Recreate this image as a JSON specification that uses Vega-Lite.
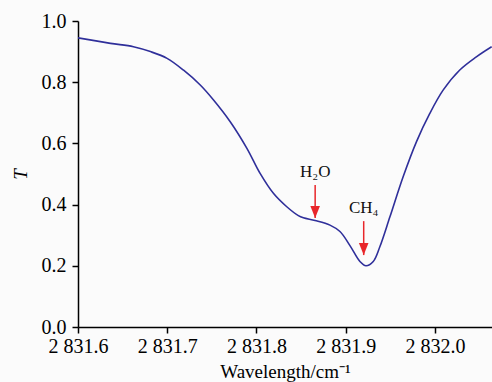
{
  "$schema": "https://vega.github.io/schema/vega-lite/v6.json",
  "width": 414,
  "height": 306,
  "autosize": {"type": "none"},
  "padding": {"left": 78, "top": 21, "right": 0, "bottom": 55},
  "background": "#fbfbfb",
  "config": {
    "view": {"stroke": null},
    "font": "Times New Roman",
    "axis": {
      "labelFont": "Times New Roman",
      "labelFontSize": 20,
      "labelColor": "#000",
      "titleFont": "Times New Roman",
      "titleFontSize": 19,
      "titleColor": "#000",
      "titleFontWeight": "normal",
      "domainColor": "#000",
      "domainWidth": 1.5,
      "tickColor": "#000",
      "tickWidth": 1.5,
      "tickSize": 6,
      "grid": false
    }
  },
  "datasets": {
    "curve": [
      {"wl": 2831.6000, "T": 0.945},
      {"wl": 2831.6364, "T": 0.927},
      {"wl": 2831.6621, "T": 0.916},
      {"wl": 2831.6811, "T": 0.900},
      {"wl": 2831.6998, "T": 0.878},
      {"wl": 2831.7180, "T": 0.840},
      {"wl": 2831.7370, "T": 0.791},
      {"wl": 2831.7519, "T": 0.742},
      {"wl": 2831.7706, "T": 0.671},
      {"wl": 2831.7893, "T": 0.584},
      {"wl": 2831.8041, "T": 0.502},
      {"wl": 2831.8190, "T": 0.437},
      {"wl": 2831.8340, "T": 0.393},
      {"wl": 2831.8470, "T": 0.364},
      {"wl": 2831.8526, "T": 0.357},
      {"wl": 2831.8657, "T": 0.348},
      {"wl": 2831.8824, "T": 0.333},
      {"wl": 2831.8936, "T": 0.312},
      {"wl": 2831.9048, "T": 0.266},
      {"wl": 2831.9160, "T": 0.214},
      {"wl": 2831.9227, "T": 0.200},
      {"wl": 2831.9309, "T": 0.214},
      {"wl": 2831.9384, "T": 0.263},
      {"wl": 2831.9496, "T": 0.360},
      {"wl": 2831.9644, "T": 0.491},
      {"wl": 2831.9794, "T": 0.606},
      {"wl": 2831.9943, "T": 0.698},
      {"wl": 2832.0092, "T": 0.774},
      {"wl": 2832.0279, "T": 0.840},
      {"wl": 2832.0465, "T": 0.883},
      {"wl": 2832.0636, "T": 0.916}
    ],
    "arrows": [
      {"label": "H₂O", "wl": 2831.8658, "top": 0.464, "tip": 0.356},
      {"label": "CH₄", "wl": 2831.9202, "top": 0.346, "tip": 0.235}
    ]
  },
  "layer": [
    {
      "data": {"name": "curve"},
      "mark": {"type": "line", "color": "#2f2f9a", "strokeWidth": 1.6, "interpolate": "catmull-rom", "clip": true},
      "encoding": {
        "x": {
          "field": "wl", "type": "quantitative",
          "scale": {"domain": [2831.6, 2832.064], "nice": false, "zero": false},
          "axis": {
            "values": [2831.6, 2831.7, 2831.8, 2831.9, 2832.0],
            "labelExpr": "replace(format(datum.value, ',.1f'), ',', ' ')",
            "labelFlush": false,
            "labelOverlap": false,
            "labelBound": false,
            "labelPadding": 3,
            "title": "Wavelength/cm⁻¹",
            "titlePadding": 6
          }
        },
        "y": {
          "field": "T", "type": "quantitative",
          "scale": {"domain": [0, 1], "nice": false},
          "axis": {
            "values": [0, 0.2, 0.4, 0.6, 0.8, 1.0],
            "format": ".1f",
            "labelPadding": 6,
            "title": "T",
            "titleFontStyle": "italic",
            "titlePadding": 11
          }
        }
      }
    },
    {
      "data": {"name": "arrows"},
      "mark": {"type": "rule", "color": "#e8262a", "strokeWidth": 1.5},
      "encoding": {
        "x": {"field": "wl", "type": "quantitative"},
        "y": {"field": "top", "type": "quantitative"},
        "y2": {"field": "tip"}
      }
    },
    {
      "data": {"name": "arrows"},
      "mark": {"type": "point", "shape": "M-0.8,-2L0.8,-2L0,0Z", "size": 144, "filled": true, "color": "#e8262a", "opacity": 1, "strokeWidth": 0},
      "encoding": {
        "x": {"field": "wl", "type": "quantitative"},
        "y": {"field": "tip", "type": "quantitative"}
      }
    },
    {
      "data": {"name": "arrows"},
      "mark": {"type": "text", "font": "Times New Roman", "fontSize": 17, "color": "#111", "baseline": "bottom", "align": "center"},
      "encoding": {
        "x": {"field": "wl", "type": "quantitative"},
        "y": {"field": "top", "type": "quantitative"},
        "text": {"field": "label"},
        "yOffset": {"value": -4}
      }
    }
  ]
}
